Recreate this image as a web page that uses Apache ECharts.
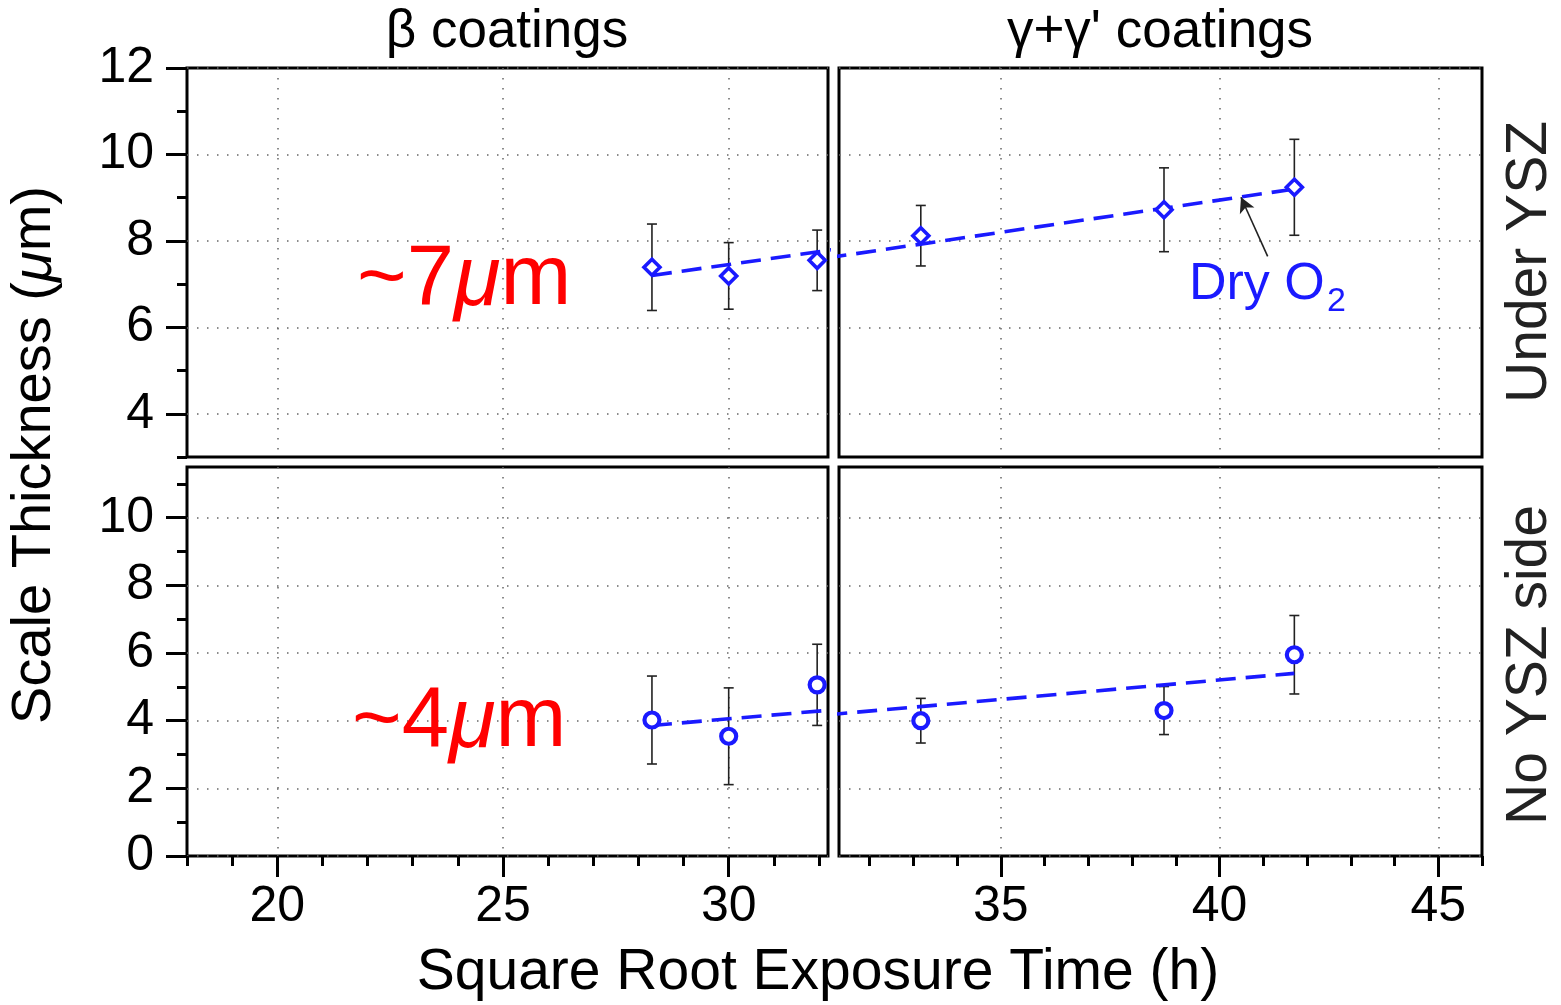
<!DOCTYPE html>
<html><head><meta charset="utf-8">
<script src="https://cdn.jsdelivr.net/npm/echarts@6/dist/echarts.min.js"></script>
<style>html,body{margin:0;padding:0;background:#fff}#c{width:1561px;height:1005px}</style>
</head><body><div id="c"></div>
<script>
// ---- data ----
const xLeftPts = [28.3, 30.0, 31.96];
const xRightPts = [33.17, 38.73, 41.71];
const underLeftY = [7.39, 7.19, 7.55];
const underLeftErr = [1.00, 0.77, 0.70];
const underRightY = [8.12, 8.72, 9.24];
const underRightErr = [0.70, 0.97, 1.11];
const noLeftY = [4.02, 3.54, 5.06];
const noLeftErr = [1.30, 1.43, 1.20];
const noRightY = [4.00, 4.30, 5.95];
const noRightErr = [0.66, 0.71, 1.16];
const fitX = [28.3, 41.71];
const fitUnderY = [7.2, 9.2];
const fitNoY = [3.86, 5.40];
const arrowX = [41.1, 40.49];
const arrowY = [7.64, 9.01];

// ---- tick values ----
const xMajorLeft = [20, 25, 30];
const xMinorLeft = [18, 19, 21, 22, 23, 24, 26, 27, 28, 29, 31, 32];
const xMajorRight = [35, 40, 45];
const xMinorRight = [32, 33, 34, 36, 37, 38, 39, 41, 42, 43, 44, 46];
const yMajorTop = [4, 6, 8, 10, 12];
const yMinorTop = [3, 5, 7, 9, 11];
const yMajorBot = [0, 2, 4, 6, 8, 10];
const yMinorBot = [1, 3, 5, 7, 9, 11];
const xRangeLeft = [18, 32.2];
const xRangeRight = [31.3, 46];
const yRangeTop = [3, 12];
const yRangeBot = [0, 11.5];

const FONT = '"Liberation Sans", Arial, Helvetica, sans-serif';
const BLUE = '#1a1aff';
const dotted = {show: true, lineStyle: {color: '#666', width: 1.5, type: [1.5, 8.5]}};

function axis(dim, grid, range, opts) {
  return {
    type: 'value', gridIndex: grid, min: range[0], max: range[1],
    position: dim === 'x' ? 'bottom' : 'left',
    axisLine: {show: false, onZero: false},
    axisTick: {show: !!opts.tickShow, customValues: opts.ticks, length: opts.len || 0, inside: false,
      lineStyle: {color: '#000', width: 3}},
    axisLabel: {show: !!opts.labels, customValues: opts.labels, fontSize: 50, fontFamily: FONT, color: '#000',
      margin: opts.margin || 8},
    splitLine: opts.split ? dotted : {show: false}
  };
}

const xAxes = [
  axis('x', 0, xRangeLeft, {ticks: xMajorLeft, split: true}),
  axis('x', 1, xRangeRight, {ticks: xMajorRight, split: true}),
  axis('x', 2, xRangeLeft, {ticks: xMajorLeft, tickShow: true, len: 21, labels: xMajorLeft, margin: 26, split: true}),
  axis('x', 3, xRangeRight, {ticks: xMajorRight, tickShow: true, len: 21, labels: xMajorRight, margin: 26, split: true}),
  axis('x', 2, xRangeLeft, {ticks: xMinorLeft, tickShow: true, len: 10}),
  axis('x', 3, xRangeRight, {ticks: xMinorRight, tickShow: true, len: 10})
];
const yAxes = [
  axis('y', 0, yRangeTop, {ticks: yMajorTop, tickShow: true, len: 21, labels: yMajorTop, margin: 33, split: true}),
  axis('y', 1, yRangeTop, {ticks: yMajorTop, split: true}),
  axis('y', 2, yRangeBot, {ticks: yMajorBot, tickShow: true, len: 21, labels: yMajorBot, margin: 33, split: true}),
  axis('y', 3, yRangeBot, {ticks: yMajorBot, split: true}),
  axis('y', 0, yRangeTop, {ticks: yMinorTop, tickShow: true, len: 10}),
  axis('y', 2, yRangeBot, {ticks: yMinorBot, tickShow: true, len: 10})
];

function zip3(xs, ys, es) { return xs.map((x, i) => [x, ys[i], es[i]]); }
function zip2(xs, ys) { return xs.map((x, i) => [x, ys[i]]); }

function errRender(params, api) {
  const x = api.value(0), y = api.value(1), e = api.value(2);
  const t = api.coord([x, y + e]), b = api.coord([x, y - e]);
  const st = {stroke: '#222', lineWidth: 1.6};
  const w = 5;
  return {type: 'group', children: [
    {type: 'line', shape: {x1: t[0], y1: t[1], x2: b[0], y2: b[1]}, style: st},
    {type: 'line', shape: {x1: t[0] - w, y1: t[1], x2: t[0] + w, y2: t[1]}, style: st},
    {type: 'line', shape: {x1: b[0] - w, y1: b[1], x2: b[0] + w, y2: b[1]}, style: st}
  ]};
}

const series = [];
const panels = [
  {xi: 0, yi: 0, xs: xLeftPts, ys: underLeftY, es: underLeftErr, sym: 'diamond', fit: fitUnderY},
  {xi: 1, yi: 1, xs: xRightPts, ys: underRightY, es: underRightErr, sym: 'diamond', fit: fitUnderY},
  {xi: 2, yi: 2, xs: xLeftPts, ys: noLeftY, es: noLeftErr, sym: 'circle', fit: fitNoY},
  {xi: 3, yi: 3, xs: xRightPts, ys: noRightY, es: noRightErr, sym: 'circle', fit: fitNoY}
];
panels.forEach((p, k) => {
  series.push({type: 'custom', xAxisIndex: p.xi, yAxisIndex: p.yi, renderItem: errRender,
    data: zip3(p.xs, p.ys, p.es), z: 2, silent: true});
  const fitSeries = {type: 'line', xAxisIndex: p.xi, yAxisIndex: p.yi, data: zip2(fitX, p.fit),
    showSymbol: false, symbol: 'none', clip: true, z: 3, silent: true,
    lineStyle: {color: BLUE, width: 3.6, type: [20, 10]}};
  if (k === 1) {
    fitSeries.markLine = {
      silent: true, animation: false, label: {show: false},
      symbol: ['none', 'arrow'], symbolSize: [12, 15],
      lineStyle: {color: '#222', width: 1.6, type: 'solid'},
      data: [[{coord: [arrowX[0], arrowY[0]]}, {coord: [arrowX[1], arrowY[1]]}]]
    };
  }
  series.push(fitSeries);
  series.push({type: 'scatter', xAxisIndex: p.xi, yAxisIndex: p.yi, data: zip2(p.xs, p.ys),
    symbol: p.sym, symbolSize: p.sym === 'diamond' ? 16 : 15, z: 4, silent: true,
    itemStyle: {color: '#fff', borderColor: BLUE, borderWidth: p.sym === 'diamond' ? 3.6 : 4.2, opacity: 1}});
});

function txt(text, x, y, size, opts) {
  opts = opts || {};
  return {type: 'text', x: x, y: y, rotation: opts.rot || 0, z: 100, silent: true,
    style: {text: text, fill: opts.color || '#000', font: size + 'px ' + FONT,
      align: opts.align || 'center', verticalAlign: 'middle'}};
}
function mu(prefix, x, y, size) {
  return {type: 'text', x: x, y: y, z: 100, silent: true,
    style: {text: '{a|' + prefix + '}{b|μ}{a|m}', align: 'left', verticalAlign: 'middle',
      rich: {a: {fontSize: size, fontFamily: FONT, fill: '#ff0000'},
             b: {fontSize: size, fontFamily: FONT, fontStyle: 'italic', fill: '#ff0000'}}}};
}

const graphics = [
  txt('β coatings', 507, 32, 53),
  txt("γ+γ' coatings", 1160, 32, 53),
  {type: 'text', x: 35, y: 455, rotation: Math.PI / 2, z: 100, silent: true,
    style: {text: '{a|Scale Thickness (}{b|μ}{a|m)}', align: 'center', verticalAlign: 'middle',
      rich: {a: {fontSize: 56, fontFamily: FONT, fill: '#000'}, b: {fontSize: 56, fontFamily: FONT, fontStyle: 'italic', fill: '#000'}}}},
  txt('Square Root Exposure Time (h)', 818, 973, 57),
  txt('Under YSZ', 1530, 262, 57, {rot: Math.PI / 2, color: '#222'}),
  txt('No YSZ side', 1530, 665, 57, {rot: Math.PI / 2, color: '#222'}),
  mu('~7', 357, 281, 85),
  mu('~4', 352, 723, 85),
  txt('Dry O', 1189, 285, 52, {align: 'left', color: BLUE}),
  txt('2', 1327, 302, 34, {align: 'left', color: BLUE})
];

const chart = echarts.init(document.getElementById('c'), null, {renderer: 'canvas'});
chart.setOption({
  animation: false,
  backgroundColor: '#fff',
  grid: [
    {left: 187, top: 68, width: 641, height: 389, show: true, borderColor: '#000', borderWidth: 3, backgroundColor: 'transparent'},
    {left: 839, top: 68, width: 643, height: 389, show: true, borderColor: '#000', borderWidth: 3, backgroundColor: 'transparent'},
    {left: 187, top: 467, width: 641, height: 389, show: true, borderColor: '#000', borderWidth: 3, backgroundColor: 'transparent'},
    {left: 839, top: 467, width: 643, height: 389, show: true, borderColor: '#000', borderWidth: 3, backgroundColor: 'transparent'}
  ],
  xAxis: xAxes,
  yAxis: yAxes,
  series: series,
  graphic: graphics
});
</script></body></html>
